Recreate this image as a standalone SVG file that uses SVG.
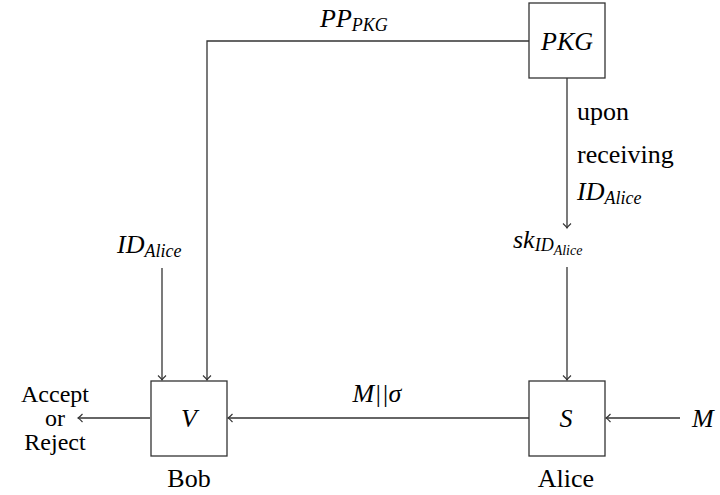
<svg xmlns="http://www.w3.org/2000/svg" width="720" height="495" viewBox="0 0 720 495">
<defs>
<marker id="ah" markerUnits="userSpaceOnUse" markerWidth="12" markerHeight="12" viewBox="-6 -6 12 12" refX="0" refY="0" orient="auto">
<path d="M-4.5 -4 Q-1.5 -0.8 0 0 Q-1.5 0.8 -4.5 4" fill="none" stroke="#333" stroke-width="1.1"/>
</marker>
</defs>
<g id="connectors" fill="none" stroke="#333" stroke-width="1.3" marker-end="url(#ah)">
<path d="M529 41 H207 V380"/>
<path d="M162 268 V380"/>
<path d="M567 78 V228"/>
<path d="M567 267 V380"/>
<path d="M529 418 H228"/>
<path d="M680 418 H606"/>
<path d="M150 418 H78"/>
</g>
<g id="PKG">
<rect x="529" y="3" width="76" height="75" fill="#fff" stroke="#333" stroke-width="1.3"/>
<text font-family="Liberation Serif" font-size="26" font-style="italic" x="567" y="50" text-anchor="middle">PKG</text>
</g>
<g id="V">
<rect x="151" y="381" width="76" height="75" fill="#fff" stroke="#333" stroke-width="1.3"/>
<text font-family="Liberation Serif" font-size="26" font-style="italic" x="189" y="427" text-anchor="middle">V</text>
<text font-family="Liberation Serif" font-size="26" x="189" y="487" text-anchor="middle">Bob</text>
</g>
<g id="S">
<rect x="529" y="381" width="76" height="75" fill="#fff" stroke="#333" stroke-width="1.3"/>
<text font-family="Liberation Serif" font-size="26" font-style="italic" x="566" y="427" text-anchor="middle">S</text>
<text font-family="Liberation Serif" font-size="26" x="566" y="487" text-anchor="middle">Alice</text>
</g>
<g id="labels">
<text font-family="Liberation Serif" font-size="26" font-style="italic" x="320" y="27">PP<tspan font-size="18" dy="4">PKG</tspan></text>
<text font-family="Liberation Serif" font-size="26" font-style="italic" x="117" y="253">ID<tspan font-size="18" dy="4">Alice</tspan></text>
<text font-family="Liberation Serif" font-size="26" font-style="italic" x="513" y="248">sk<tspan font-size="18" dy="3">ID</tspan><tspan font-size="14" dy="4">Alice</tspan></text>
<text font-family="Liberation Serif" font-size="26" x="577" y="120">upon</text>
<text font-family="Liberation Serif" font-size="26" x="577" y="163">receiving</text>
<text font-family="Liberation Serif" font-size="26" font-style="italic" x="577" y="200">ID<tspan font-size="18" dy="4">Alice</tspan></text>
<text font-family="Liberation Serif" font-size="26" font-style="italic" x="377" y="402" text-anchor="middle">M||&#963;</text>
<text font-family="Liberation Serif" font-size="26" font-style="italic" x="692" y="427">M</text>
<text font-family="Liberation Serif" font-size="24" x="55" y="402" text-anchor="middle">Accept</text>
<text font-family="Liberation Serif" font-size="24" x="55" y="426" text-anchor="middle">or</text>
<text font-family="Liberation Serif" font-size="24" x="55" y="450" text-anchor="middle">Reject</text>
</g>
</svg>
